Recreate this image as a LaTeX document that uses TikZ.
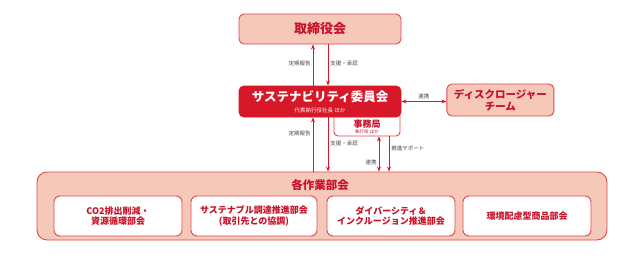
\documentclass[tikz,border=0pt]{standalone}
\usepackage{fontspec}
\setmainfont{Noto Sans CJK JP}
\usepackage{tikz}
\usetikzlibrary{positioning,arrows.meta,calc}
\usepackage{xcolor}
\definecolor{pinkfill}{RGB}{246,200,186}
\definecolor{redline}{RGB}{222,72,74}
\definecolor{darkred}{RGB}{214,24,40}
\definecolor{redtext}{RGB}{200,18,40}
\definecolor{labelgray}{RGB}{70,70,70}
\tikzset{
  >=Stealth,
}

\begin{document}
\begin{tikzpicture}[x=1pt, y=-1pt,
  box/.style={draw=redline, line width=0.9pt, rounded corners=5pt, fill=pinkfill, text=redtext, align=center, inner sep=0pt, font=\bfseries},
  subbox/.style={draw=redline, line width=0.9pt, rounded corners=6pt, fill=white, text=redtext, align=center, inner sep=0pt, minimum width=128pt, minimum height=40pt, font=\bfseries\fontsize{9}{10.5}\selectfont},
  arr/.style={-{Stealth[length=5pt,width=4pt]}, draw=darkred, line width=0.9pt},
  twoway/.style={{Stealth[length=5pt,width=4pt]}-{Stealth[length=5pt,width=4pt]}, draw=darkred, line width=0.9pt},
  lbl/.style={text=labelgray, font=\fontsize{5.5}{6}\selectfont, inner sep=2pt}
]
  \useasboundingbox (0,0) rectangle (640,260);
  \node[box, minimum width=162pt, minimum height=30pt, font=\bfseries\fontsize{13}{15}\selectfont] (board) at (320,29) {取締役会};
  \node[draw=redline, line width=0.9pt, rounded corners=4pt, fill=white, minimum width=66pt, minimum height=24pt, inner sep=0pt] (office) at (367,124) {};
  \node[draw=darkred, line width=0.9pt, rounded corners=5pt, fill=darkred, text=white, minimum width=162pt, minimum height=31pt, inner sep=0pt] (committee) at (320,101.5) {};
  \node[text=white, font=\bfseries\fontsize{12.5}{14}\selectfont, inner sep=0pt] (committeetitle) at (320,97) {サステナビリティ委員会};
  \node[text=white, font=\fontsize{5.5}{6}\selectfont, inner sep=0pt] (committeesub) at (320,110) {代表執行役社長 ほか};
  \node[text=redtext, font=\bfseries\fontsize{9}{10}\selectfont, inner sep=0pt] (officetitle) at (367,124) {事務局};
  \node[text=redtext, font=\fontsize{4.5}{5}\selectfont, inner sep=0pt] (officesub) at (367,132) {執行役 ほか};
  \node[box, minimum width=107pt, minimum height=32pt, right=45pt of committee, yshift=1.5pt, font=\bfseries\fontsize{10.5}{12}\selectfont] (disclosure) {ディスクロージャー\\チーム};
  \node[box, rounded corners=10pt, minimum width=570pt, minimum height=68pt] (groups) at (322,206) {};
  \node[text=redtext, font=\bfseries\fontsize{11.5}{13}\selectfont, inner sep=0pt] (groupstitle) at (320,185) {各作業部会};
  \node[subbox] (co2) at (118,216) {CO2排出削減・\\資源循環部会};
  \node[subbox, minimum width=126pt] (procure) at (254,216) {サステナブル調達推進部会\\(取引先との協調)};
  \node[subbox] (diversity) at (391,216) {ダイバーシティ＆\\インクルージョン推進部会};
  \node[subbox] (products) at (527,216) {環境配慮型商品部会};

  \coordinate (up1) at ([xshift=-7pt]committee.north);
  \coordinate (down1) at ([xshift=8pt]committee.north);
  \coordinate (up2) at ([xshift=-7pt]committee.south);
  \coordinate (down2) at ([xshift=8pt]committee.south);
  \coordinate (link) at ([xshift=12pt]office.south);
  \coordinate (support) at ([xshift=22pt]office.south);

  \draw[arr] (up1) -- node[lbl, left, pos=0.55] {定期報告} (up1 |- board.south);
  \draw[arr] (down1 |- board.south) -- node[lbl, right, pos=0.45] {支援・承認} (down1);
  \draw[arr] (up2 |- groups.north) -- node[lbl, left, pos=0.7] {定期報告} (up2);
  \draw[arr] (down2) -- node[lbl, right, pos=0.48] {支援・承認} (down2 |- groups.north);
  \draw[twoway] (link) -- node[lbl, left, pos=0.75] {連携} (link |- groups.north);
  \draw[arr] (support) -- node[lbl, right, pos=0.35] {推進サポート} (support |- groups.north);
  \draw[twoway] (committee.east) -- node[lbl, above] {連携} (disclosure.west |- committee.east);
\end{tikzpicture}
\end{document}
